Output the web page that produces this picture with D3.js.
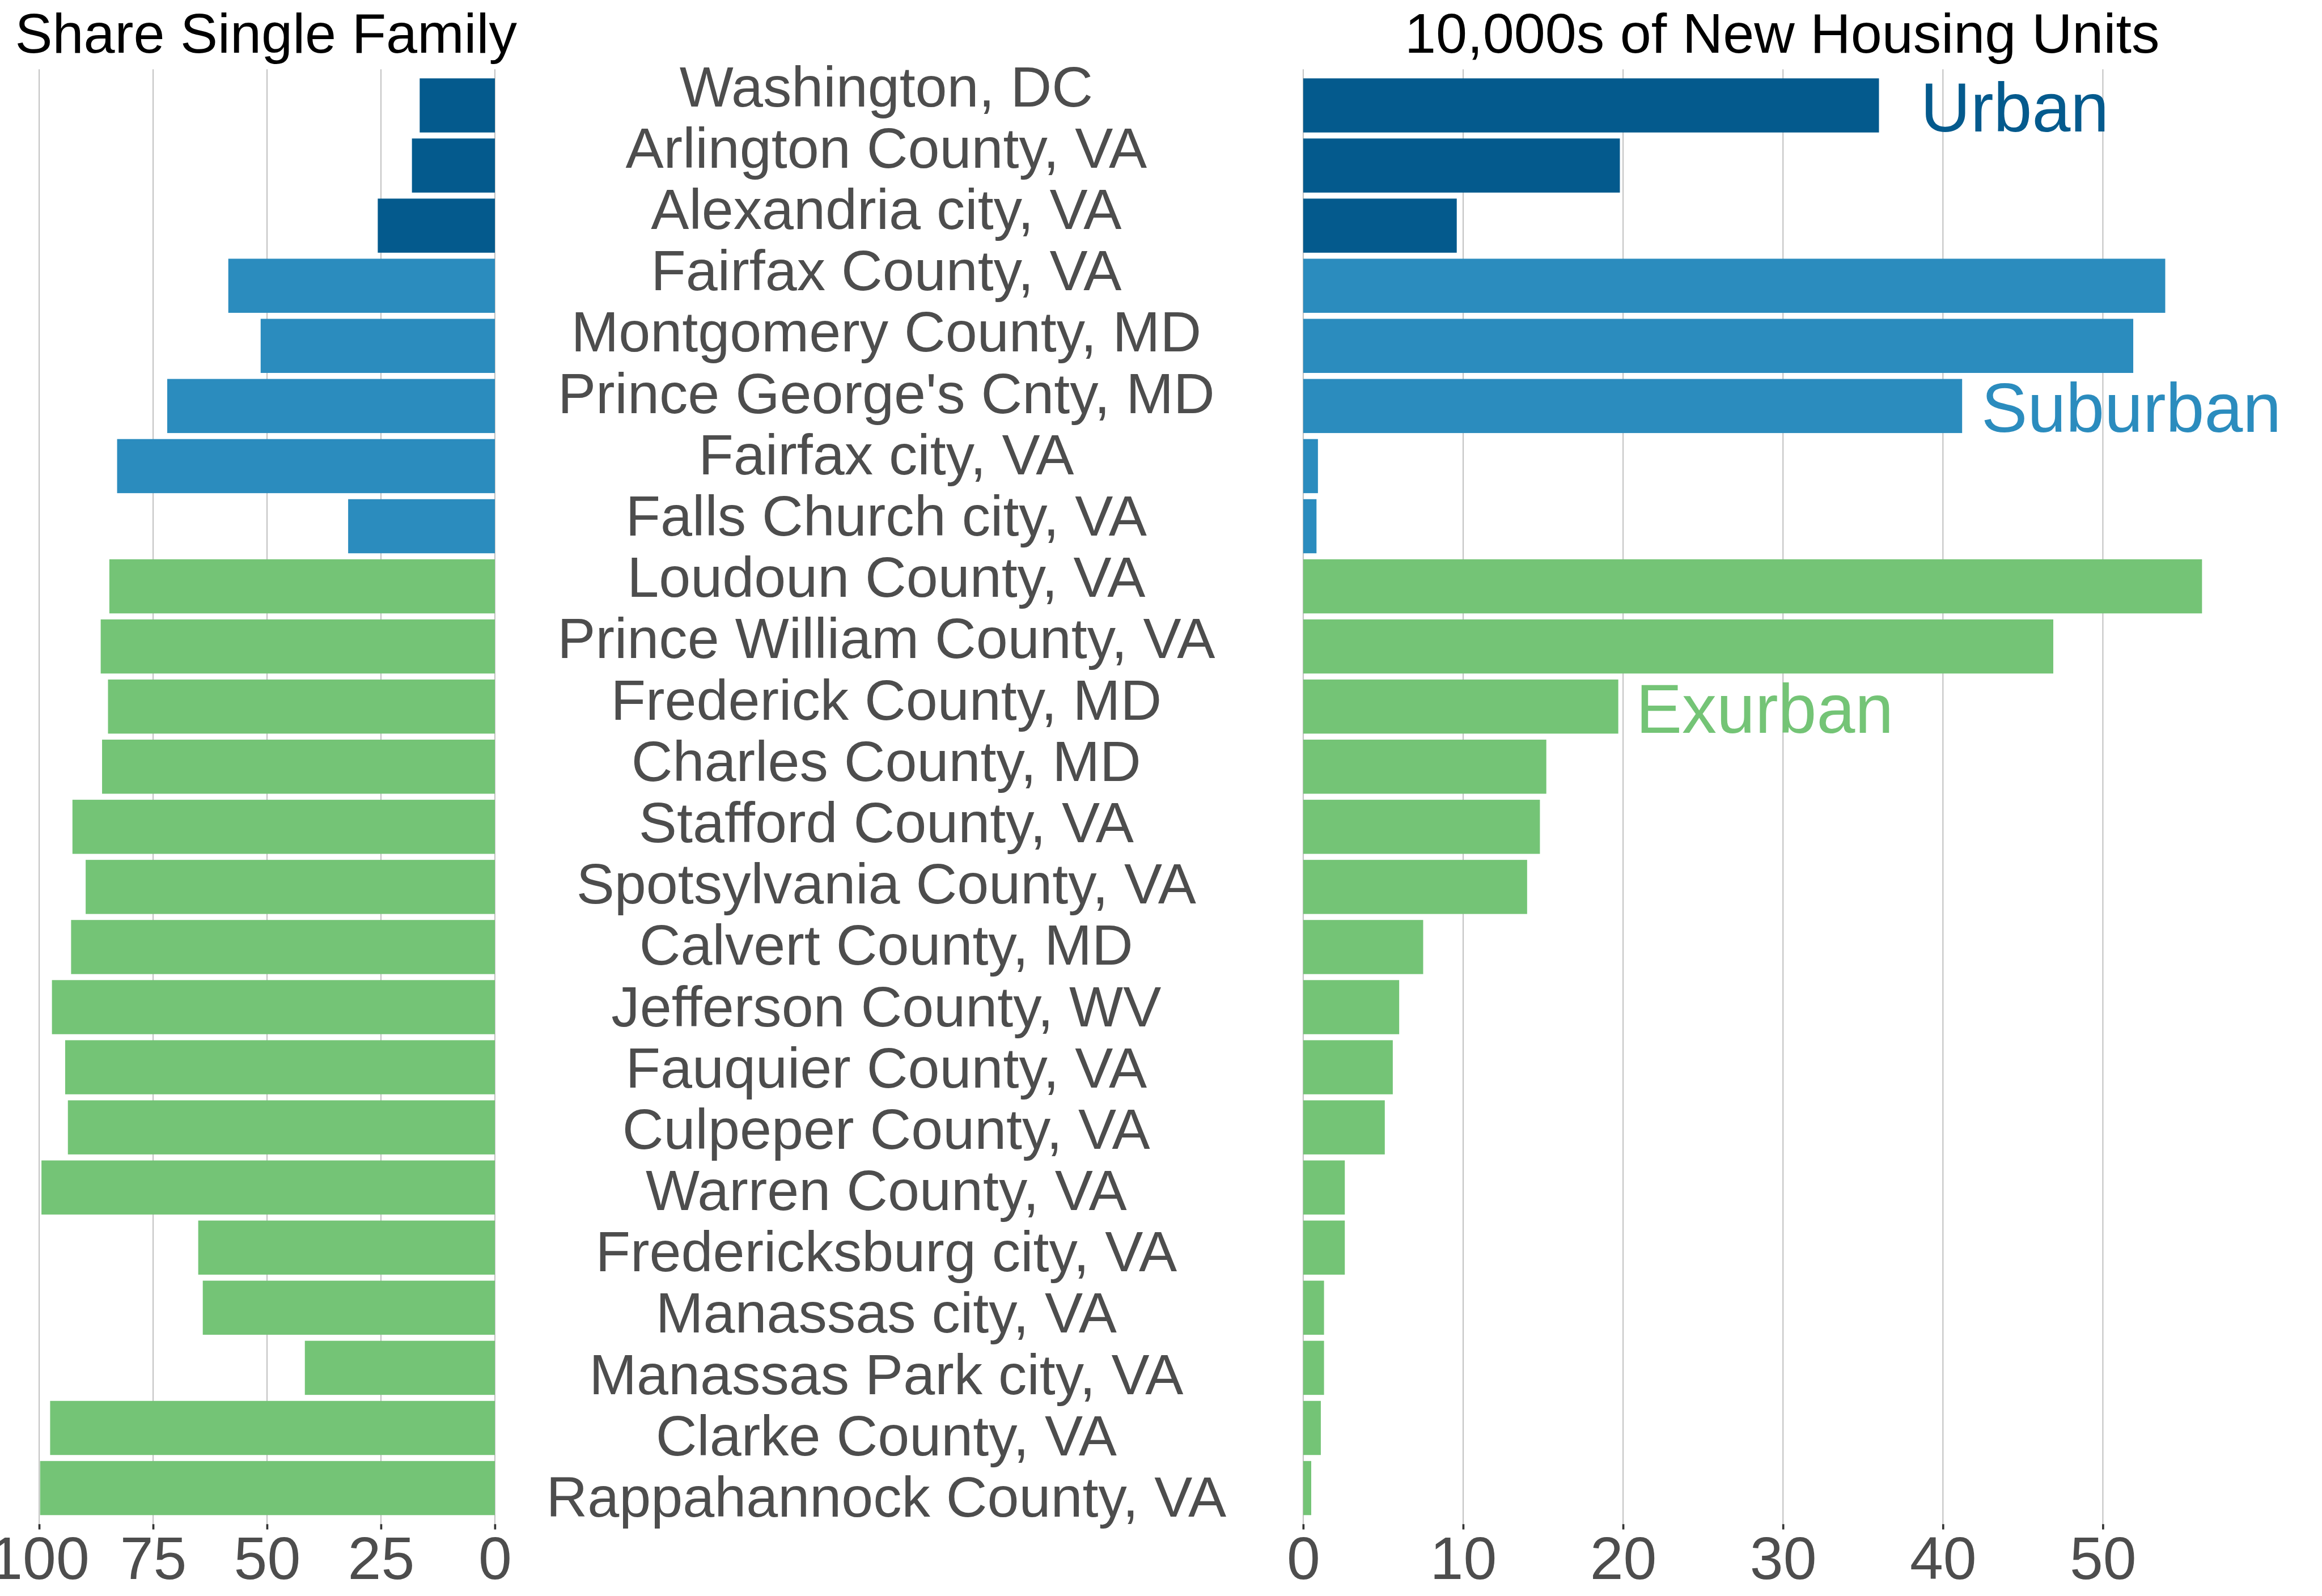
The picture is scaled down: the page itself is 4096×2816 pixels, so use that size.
<!DOCTYPE html>
<html>
<head>
<meta charset="utf-8">
<script src="https://cdn.jsdelivr.net/npm/d3@7"></script>
<style>
  html, body { margin: 0; padding: 0; background: #ffffff; }
  svg { display: block; }
</style>
</head>
<body>
<script>
// ---------------- data ----------------
const counties = [
  "Washington, DC", "Arlington County, VA", "Alexandria city, VA",
  "Fairfax County, VA", "Montgomery County, MD", "Prince George's Cnty, MD",
  "Fairfax city, VA", "Falls Church city, VA",
  "Loudoun County, VA", "Prince William County, VA", "Frederick County, MD",
  "Charles County, MD", "Stafford County, VA", "Spotsylvania County, VA",
  "Calvert County, MD", "Jefferson County, WV", "Fauquier County, VA",
  "Culpeper County, VA", "Warren County, VA", "Fredericksburg city, VA",
  "Manassas city, VA", "Manassas Park city, VA", "Clarke County, VA",
  "Rappahannock County, VA"
];
const groups = [
  "Urban", "Urban", "Urban",
  "Suburban", "Suburban", "Suburban", "Suburban", "Suburban",
  "Exurban", "Exurban", "Exurban", "Exurban", "Exurban", "Exurban", "Exurban",
  "Exurban", "Exurban", "Exurban", "Exurban", "Exurban", "Exurban", "Exurban",
  "Exurban", "Exurban"
];
const shareSingleFamily = [
  16.5, 18.2, 25.7,
  58.5, 51.4, 71.9, 82.9, 32.2,
  84.6, 86.5, 84.9, 86.2, 92.7, 89.8, 93.0, 97.2, 94.3, 93.7, 99.5,
  65.1, 64.1, 41.7, 97.6, 99.8
];
const newUnits = [
  36.0, 19.8, 9.6,
  53.9, 51.9, 41.2, 0.92, 0.83,
  56.2, 46.9, 19.7, 15.2, 14.8, 14.0, 7.5, 6.0, 5.6, 5.1, 2.6,
  2.6, 1.3, 1.3, 1.1, 0.5
];
const groupNames = ["Urban", "Suburban", "Exurban"];
const groupColors = ["#045a8d", "#2b8cbe", "#74c476"];
const leftTicks = [0, 25, 50, 75, 100];
const rightTicks = [0, 10, 20, 30, 40, 50];
const leftTitle = "Share Single Family";
const rightTitle = "10,000s of New Housing Units";
// group label annotations (row they sit on, x position in 10,000s of units)
const annoLabels = ["Urban", "Suburban", "Exurban"];
const annoRows = ["Washington, DC", "Prince George's Cnty, MD", "Frederick County, MD"];
const annoX = [38.6, 42.4, 20.8];

// ---------------- layout (reference px, scaled to window) ----------------
const W = 4096, H = 2816, REF_W = 4800;
const k = W / REF_W;
const FONT = "'Liberation Sans', Arial, Helvetica, sans-serif";
const TEXT_GREY = "#4d4d4d";
const GRID = "#c2c2c2";

const rows = counties.map((c, i) => ({
  county: c, group: groups[i], share: shareSingleFamily[i], units: newUnits[i]
}));

const color = d3.scaleOrdinal().domain(groupNames).range(groupColors);

const panelTop = 143.4, panelBottom = 3151.4;
const y = d3.scaleBand().domain(counties)
  .range([panelTop, panelBottom]).paddingInner(0.1).paddingOuter(0.15);
const yLabel = d3.scalePoint().domain(counties).range([220, 3136]);

const xL = d3.scaleLinear().domain([0, 100]).range([1023, 81]);
const xR = d3.scaleLinear().domain([0, 50]).range([2694, 4347]);

const svg = d3.select("body").append("svg")
  .attr("width", W).attr("height", H)
  .attr("viewBox", `0 0 ${W} ${H}`);
svg.append("rect").attr("width", W).attr("height", H).attr("fill", "#fff");

const g = svg.append("g").attr("transform", `scale(${k})`)
  .style("font-family", FONT);

// ---------- left panel ----------
const left = g.append("g").attr("class", "left");
left.append("g").selectAll("line").data(leftTicks).join("line")
  .attr("x1", d => xL(d)).attr("x2", d => xL(d))
  .attr("y1", panelTop).attr("y2", panelBottom)
  .attr("stroke", GRID).attr("stroke-width", 2.4);

left.append("g").selectAll("rect").data(rows).join("rect")
  .attr("x", d => xL(d.share))
  .attr("width", d => xL(0) - xL(d.share))
  .attr("y", d => y(d.county))
  .attr("height", y.bandwidth())
  .attr("fill", d => color(d.group));

const axisL = d3.axisBottom(xL).tickValues(leftTicks).tickSize(11).tickPadding(14)
  .tickFormat(d3.format("d"));
const gAxL = left.append("g").attr("transform", `translate(0,${panelBottom})`).call(axisL);
gAxL.select(".domain").remove();
gAxL.selectAll(".tick line").attr("stroke", "#333333").attr("stroke-width", 4.3);
gAxL.selectAll(".tick text").attr("fill", TEXT_GREY)
  .style("font-family", FONT).style("font-size", "124px");

left.append("text").text(leftTitle)
  .attr("x", 31).attr("y", 109)
  .attr("fill", "#000").style("font-size", "116px");

// ---------- middle labels ----------
g.append("g").selectAll("text").data(rows).join("text")
  .attr("x", 1832).attr("y", d => yLabel(d.county))
  .attr("text-anchor", "middle")
  .attr("fill", TEXT_GREY).style("font-size", "118px")
  .text(d => d.county);

// ---------- right panel ----------
const right = g.append("g").attr("class", "right");
right.append("g").selectAll("line").data(rightTicks).join("line")
  .attr("x1", d => xR(d)).attr("x2", d => xR(d))
  .attr("y1", panelTop).attr("y2", panelBottom)
  .attr("stroke", GRID).attr("stroke-width", 2.4);

right.append("g").selectAll("rect").data(rows).join("rect")
  .attr("x", xR(0))
  .attr("width", d => xR(d.units) - xR(0))
  .attr("y", d => y(d.county))
  .attr("height", y.bandwidth())
  .attr("fill", d => color(d.group));

const axisR = d3.axisBottom(xR).tickValues(rightTicks).tickSize(11).tickPadding(14)
  .tickFormat(d3.format("d"));
const gAxR = right.append("g").attr("transform", `translate(0,${panelBottom})`).call(axisR);
gAxR.select(".domain").remove();
gAxR.selectAll(".tick line").attr("stroke", "#333333").attr("stroke-width", 4.3);
gAxR.selectAll(".tick text").attr("fill", TEXT_GREY)
  .style("font-family", FONT).style("font-size", "124px");

right.append("text").text(rightTitle)
  .attr("x", 2904).attr("y", 109)
  .attr("fill", "#000").style("font-size", "116px");

// group annotations
right.append("g").selectAll("text").data(annoLabels).join("text")
  .attr("x", (d, i) => xR(annoX[i]))
  .attr("y", (d, i) => y(annoRows[i]) + y.bandwidth() / 2 + 54)
  .attr("fill", d => color(d))
  .style("font-size", "143px")
  .text(d => d);
</script>
</body>
</html>
